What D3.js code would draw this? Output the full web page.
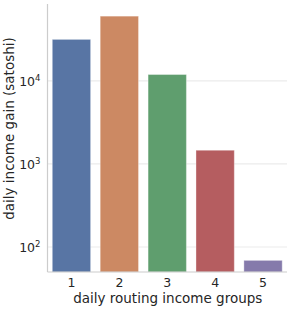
<!DOCTYPE html>
<html>
<head>
<meta charset="utf-8">
<script src="https://cdn.jsdelivr.net/npm/d3@7"></script>
<style>
  body { margin: 0; background: #fff; }
  text { font-family: "DejaVu Sans", sans-serif; fill: #262626; }
</style>
</head>
<body>
<div id="chart"></div>
<script>
// data
var groups = ["1", "2", "3", "4", "5"];
var gains = [31500, 60000, 11900, 1460, 69];
var barColors = ["#5875a4", "#cc8963", "#5f9e6e", "#b55d60", "#857aab"];
var yTicks = [100, 1000, 10000];
var yTickExp = ["2", "3", "4"];

var margin = {top: 4, right: 4, bottom: 38, left: 47.5},
    width = 291 - margin.left - margin.right,
    height = 310 - margin.top - margin.bottom;

var svg = d3.select("#chart")
    .append("svg")
    .attr("width", 291)
    .attr("height", 310);

var g = svg.append("g")
    .attr("transform", "translate(" + margin.left + "," + margin.top + ")");

var x = d3.scaleBand().domain(groups).range([0, width]).paddingInner(0.2).paddingOuter(0.1);
var y = d3.scaleLog().domain([50, 84000]).range([height, 0]);

// horizontal grid
g.selectAll("line.grid")
    .data(yTicks)
    .enter().append("line")
    .attr("class", "grid")
    .attr("x1", 0)
    .attr("x2", width)
    .attr("y1", d => y(d))
    .attr("y2", d => y(d))
    .attr("stroke", "#ebebeb")
    .attr("stroke-width", 1.2);

// bars
g.selectAll(".bar")
    .data(gains)
    .enter().append("rect")
    .attr("class", "bar")
    .attr("x", (d, i) => x(groups[i]))
    .attr("y", d => y(d))
    .attr("width", x.bandwidth())
    .attr("height", d => height - y(d))
    .attr("fill", (d, i) => barColors[i])
    .attr("stroke", "#ffffff")
    .attr("stroke-opacity", 0.35)
    .attr("stroke-width", 1);

// spines
g.append("line").attr("x1", 0).attr("x2", 0).attr("y1", 0).attr("y2", height)
    .attr("stroke", "#cccccc").attr("stroke-width", 1.2);
g.append("line").attr("x1", 0).attr("x2", width).attr("y1", height).attr("y2", height)
    .attr("stroke", "#cccccc").attr("stroke-width", 1.2);

// x tick labels
var xAxis = d3.axisBottom(x).tickSize(0).tickPadding(6);
var xg = g.append("g")
    .attr("transform", "translate(0," + height + ")")
    .call(xAxis);
xg.select(".domain").remove();
xg.selectAll("text")
    .style("font-family", "DejaVu Sans, sans-serif")
    .style("font-size", "12.5px")
    .attr("fill", "#262626");

// y tick labels as 10^n
var yt = g.selectAll("text.ytick")
    .data(yTicks)
    .enter().append("text")
    .attr("class", "ytick")
    .attr("x", -7)
    .attr("y", d => y(d))
    .attr("dy", "0.38em")
    .attr("text-anchor", "end")
    .style("font-size", "12.5px");
yt.append("tspan").text("10");
yt.append("tspan")
    .attr("dy", "-0.5em")
    .style("font-size", "8.5px")
    .text((d, i) => yTickExp[i]);

// axis labels
svg.append("text")
    .attr("x", margin.left + width / 2 + 0.5)
    .attr("y", 303)
    .attr("text-anchor", "middle")
    .style("font-size", "13.5px")
    .text("daily routing income groups");

svg.append("text")
    .attr("transform", "translate(13.5,128.5) rotate(-90)")
    .attr("text-anchor", "middle")
    .style("font-size", "13.5px")
    .text("daily income gain (satoshi)");
</script>
</body>
</html>
